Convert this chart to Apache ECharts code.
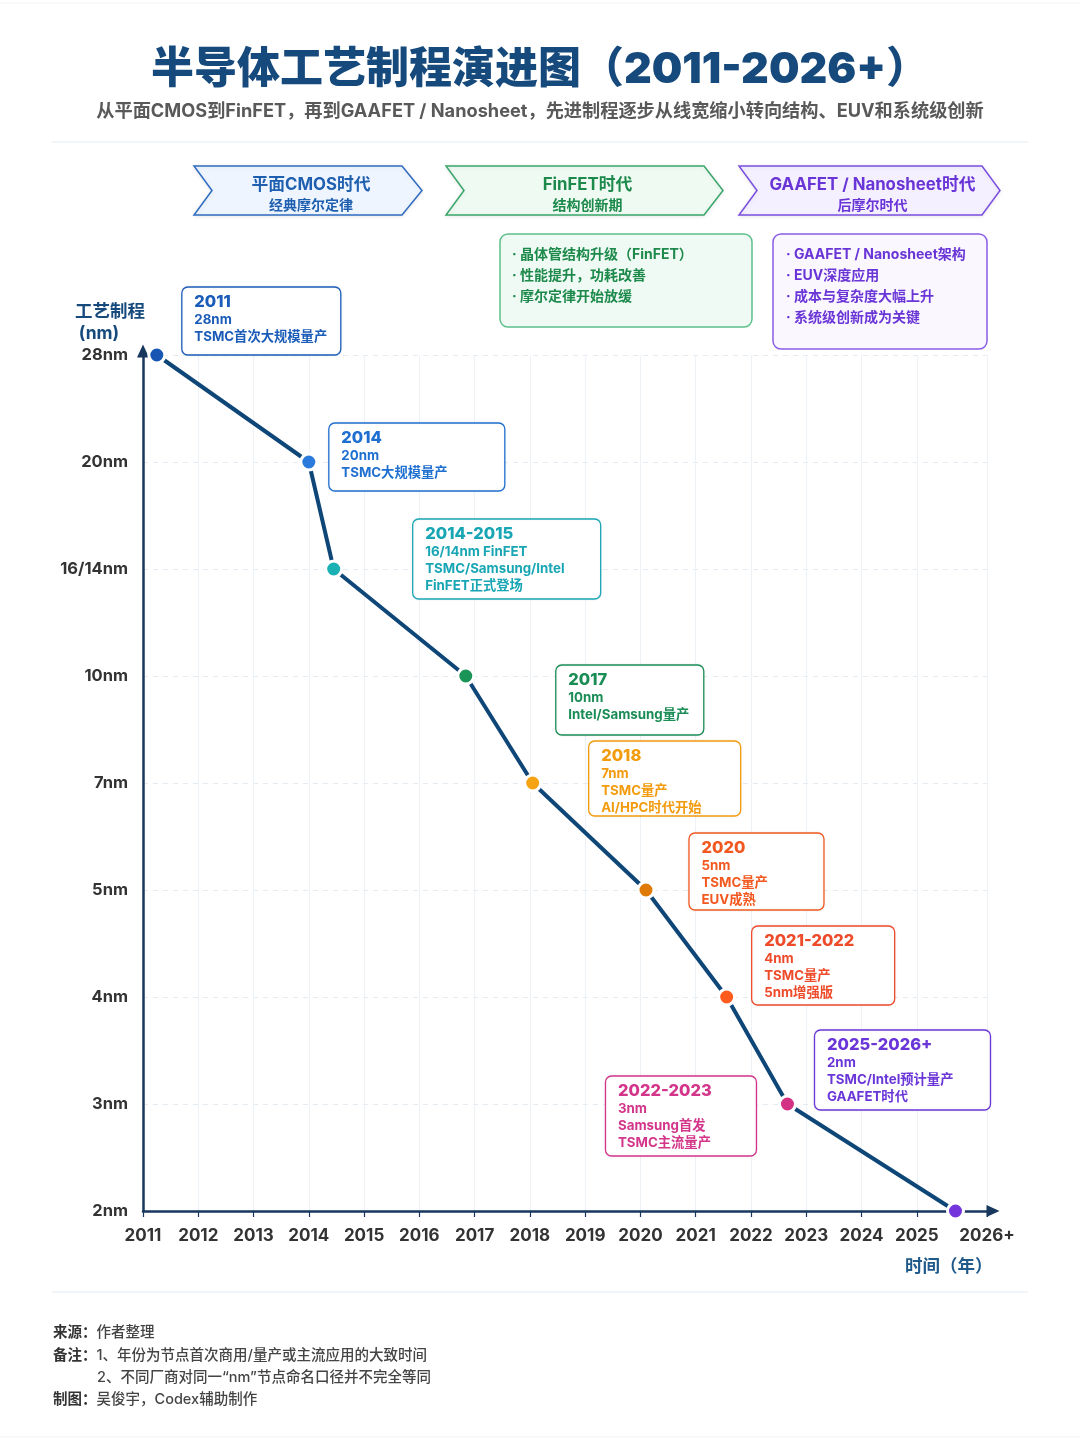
<!DOCTYPE html>
<html><head><meta charset="utf-8">
<script src="https://cdn.jsdelivr.net/npm/echarts@6.0.0/dist/echarts.min.js"></script>
<style>html,body{margin:0;padding:0;background:#fff}#c{width:1080px;height:1441px}</style>
</head><body><div id="c"></div>
<script>
// ---------- data ----------
const nodeLabels = ['2nm','3nm','4nm','5nm','7nm','10nm','16/14nm','20nm','28nm'];
const yearTicks = [2011,2012,2013,2014,2015,2016,2017,2018,2019,2020,2021,2022,2023,2024,2025,2026.27];
const yearTickLabels = ['2011','2012','2013','2014','2015','2016','2017','2018','2019','2020','2021','2022','2023','2024','2025','2026+'];
const pointYears = [2011.25, 2014.0, 2014.45, 2016.84, 2018.05, 2020.10, 2021.56, 2022.66, 2025.70];
const pointNodes = ['28nm','20nm','16/14nm','10nm','7nm','5nm','4nm','3nm','2nm'];
const pointColors = ['#1757b3','#2a7bdc','#19b1b3','#1a9457','#f5a312','#e07a06','#ff5b1e','#d33184','#7436dc'];
const noteTitles = ['2011','2014','2014-2015','2017','2018','2020','2021-2022','2022-2023','2025-2026+'];
const noteLines = [
  ['28nm','TSMC首次大规模量产'],
  ['20nm','TSMC大规模量产'],
  ['16/14nm FinFET','TSMC/Samsung/Intel','FinFET正式登场'],
  ['10nm','Intel/Samsung量产'],
  ['7nm','TSMC量产','AI/HPC时代开始'],
  ['5nm','TSMC量产','EUV成熟'],
  ['4nm','TSMC量产','5nm增强版'],
  ['3nm','Samsung首发','TSMC主流量产'],
  ['2nm','TSMC/Intel预计量产','GAAFET时代']
];
const noteColors = ['#1b5cb8','#1f6fd1','#18a6b5','#1a8c55','#f29b0c','#f2581f','#ee4b2b','#d3358a','#6b36d8'];
const eraTitles = ['平面CMOS时代','FinFET时代','GAAFET / Nanosheet时代'];
const eraSubs = ['经典摩尔定律','结构创新期','后摩尔时代'];
const finfetNotes = ['· 晶体管结构升级（FinFET）','· 性能提升，功耗改善','· 摩尔定律开始放缓'];
const gaaNotes = ['· GAAFET / Nanosheet架构','· EUV深度应用','· 成本与复杂度大幅上升','· 系统级创新成为关键'];

// ---------- layout (not data) ----------
const FONT = 'Inter, "Noto Sans CJK SC", sans-serif';
const noteBoxes = [ // dx, dy from point, width, height
  [25,-68,159,68],[20,-39,176,68],[79,-50,188,80],[90,-11,148,70],[56,-42,152,75],
  [43,-57,135,77],[25,-71,143,79],[-182,-28,151,80],[-141,-181,176,80]
];

const chart = echarts.init(document.getElementById('c'), null, {renderer:'canvas'});
const lineData = pointYears.map((x,i)=>({
  value:[x, nodeLabels.indexOf(pointNodes[i])],
  itemStyle:{color:pointColors[i], borderColor:'#fff', borderWidth:3}
}));

chart.setOption({
  backgroundColor:'#fff',
  animation:false,
  textStyle:{fontFamily:FONT},
  grid:{left:143, right:93, top:355, bottom:230, containLabel:false},
  xAxis:{
    type:'value', min:2011, max:2026.27,
    axisLine:{show:true, lineStyle:{color:'#17375e', width:2.5}, symbol:['none','triangle'], symbolSize:[12,13], symbolOffset:[0,6]},
    axisTick:{show:true, customValues:yearTicks, length:6, lineStyle:{color:'#17375e', width:1.2}},
    axisLabel:{customValues:yearTicks, margin:16, fontSize:17, fontWeight:'bold', color:'#333', fontFamily:FONT,
      formatter:(v)=>{const i=yearTicks.findIndex(t=>Math.abs(t-v)<1e-6); return i>=0?yearTickLabels[i]:'';}},
    splitLine:{show:true, lineStyle:{color:'#edf2f7', width:1}}
  },
  yAxis:{
    type:'category', data:nodeLabels, boundaryGap:false,
    axisLine:{show:true, lineStyle:{color:'#17375e', width:2.5}, symbol:['none','triangle'], symbolSize:[12,13], symbolOffset:[0,4]},
    axisTick:{show:false},
    axisLabel:{margin:15, fontSize:16.5, fontWeight:'bold', color:'#333', fontFamily:FONT},
    splitLine:{show:true, lineStyle:{color:'#e4ebf2', width:1, type:[5,5]}}
  },
  series:[{
    type:'line', data:lineData, symbol:'circle', symbolSize:16,
    lineStyle:{color:'#0e4677', width:4},
    z:5
  }]
});

// ---------- graphics ----------
const g = [];
// header
g.push({type:'text', left:'center', top:49, style:{text:'半导体工艺制程演进图（2011-2026+）', font:'900 43px '+FONT, fill:'#164a7c'}});
g.push({type:'text', left:'center', top:102, style:{text:'从平面CMOS到FinFET，再到GAAFET / Nanosheet，先进制程逐步从线宽缩小转向结构、EUV和系统级创新', font:'bold 18.2px '+FONT, fill:'#595959'}});
g.push({type:'line', shape:{x1:52,y1:142,x2:1028,y2:142}, style:{stroke:'#e3eaf2', lineWidth:1.2}});
g.push({type:'line', shape:{x1:52,y1:1292,x2:1028,y2:1292}, style:{stroke:'#e3eaf2', lineWidth:1.2}});
g.push({type:'line', shape:{x1:0,y1:1437,x2:1080,y2:1437}, style:{stroke:'#eef2f6', lineWidth:1}});
g.push({type:'line', shape:{x1:0,y1:3,x2:1080,y2:3}, style:{stroke:'#f2f5f8', lineWidth:1}});

// era chevrons
const eraGeo = [[194,402,422,212],[446,704,723,464],[739,982,1000,757]];
const eraFill = ['#eef5ff','#eefaf2','#f5f0ff'];
const eraStroke = ['#2f6cc0','#3aa66a','#7b4fe0'];
const eraText = ['#1f5fb0','#1d8a4c','#6a35d6'];
eraGeo.forEach((e,i)=>{
  const [l,r,tip,notch]=e, t=166, b=215, m=190.5;
  g.push({type:'polygon', shape:{points:[[l,t],[r,t],[tip,m],[r,b],[l,b],[notch,m]]},
    style:{fill:eraFill[i], stroke:eraStroke[i], lineWidth:1.5, shadowBlur:4, shadowColor:'rgba(0,0,0,0.08)', shadowOffsetY:1}});
  const cx=(l+tip)/2+3;
  g.push({type:'text', x:cx, y:184.5, style:{text:eraTitles[i], font:'bold 16.8px '+FONT, fill:eraText[i], textAlign:'center', textVerticalAlign:'middle'}});
  g.push({type:'text', x:cx, y:206, style:{text:eraSubs[i], font:'bold 14px '+FONT, fill:eraText[i], textAlign:'center', textVerticalAlign:'middle'}});
});

// info boxes
g.push({type:'rect', shape:{x:500,y:234,width:252,height:93,r:8}, style:{fill:'#f0faf4', stroke:'#5cc08a', lineWidth:1.5}});
finfetNotes.forEach((t,i)=>g.push({type:'text', x:512, y:254.5+i*21, style:{text:t, font:'bold 14px '+FONT, fill:'#1d8a4c', textVerticalAlign:'middle'}}));
g.push({type:'rect', shape:{x:773,y:234,width:214,height:115,r:8}, style:{fill:'#faf7ff', stroke:'#8a5ce6', lineWidth:1.5}});
gaaNotes.forEach((t,i)=>g.push({type:'text', x:786, y:254.5+i*21, style:{text:t, font:'bold 14px '+FONT, fill:'#6a35d6', textVerticalAlign:'middle'}}));

// axis names
g.push({type:'text', x:110, y:312, style:{text:'工艺制程', font:'bold 17.5px '+FONT, fill:'#164a7c', textAlign:'center', textVerticalAlign:'middle'}});
g.push({type:'text', x:99, y:334, style:{text:'(nm)', font:'bold 17.5px '+FONT, fill:'#164a7c', textAlign:'center', textVerticalAlign:'middle'}});
g.push({type:'text', x:905, y:1267, style:{text:'时间（年）', font:'bold 17.5px '+FONT, fill:'#1f5a8a', textVerticalAlign:'middle'}});

// notes anchored to points
pointYears.forEach((x,i)=>{
  const p = chart.convertToPixel({gridIndex:0}, [x, nodeLabels.indexOf(pointNodes[i])]);
  const [dx,dy,w,h] = noteBoxes[i];
  const bx = p[0]+dx, by = p[1]+dy, c = noteColors[i];
  g.push({type:'rect', z:10, shape:{x:bx,y:by,width:w,height:h,r:6},
    style:{fill:'#fff', stroke:c, lineWidth:1.3, opacity:1, shadowBlur:3, shadowColor:'rgba(0,0,0,0.06)'}});
  g.push({type:'text', z:11, x:bx+12.5, y:by+15, style:{text:noteTitles[i], font:'800 16.5px '+FONT, fill:c, textVerticalAlign:'middle'}});
  noteLines[i].forEach((t,j)=>g.push({type:'text', z:11, x:bx+12.5, y:by+32.5+j*17, style:{text:t, font:'bold 13.3px '+FONT, fill:c, textVerticalAlign:'middle'}}));
});

// footer
const footer = [
  [53,1333,'{b|来源：}作者整理'],
  [53,1356,'{b|备注：}1、年份为节点首次商用/量产或主流应用的大致时间'],
  [97,1378,'2、不同厂商对同一“nm”节点命名口径并不完全等同'],
  [53,1400,'{b|制图：}吴俊宇，Codex辅助制作']
];
footer.forEach(f=>g.push({type:'text', x:f[0], y:f[1], style:{text:f[2], font:'500 14.5px '+FONT, fill:'#444', textVerticalAlign:'middle',
  rich:{b:{fontWeight:'bold', fontSize:14.5, fill:'#333', color:'#333', fontFamily:FONT}}}}));

chart.setOption({graphic:g});
</script></body></html>
